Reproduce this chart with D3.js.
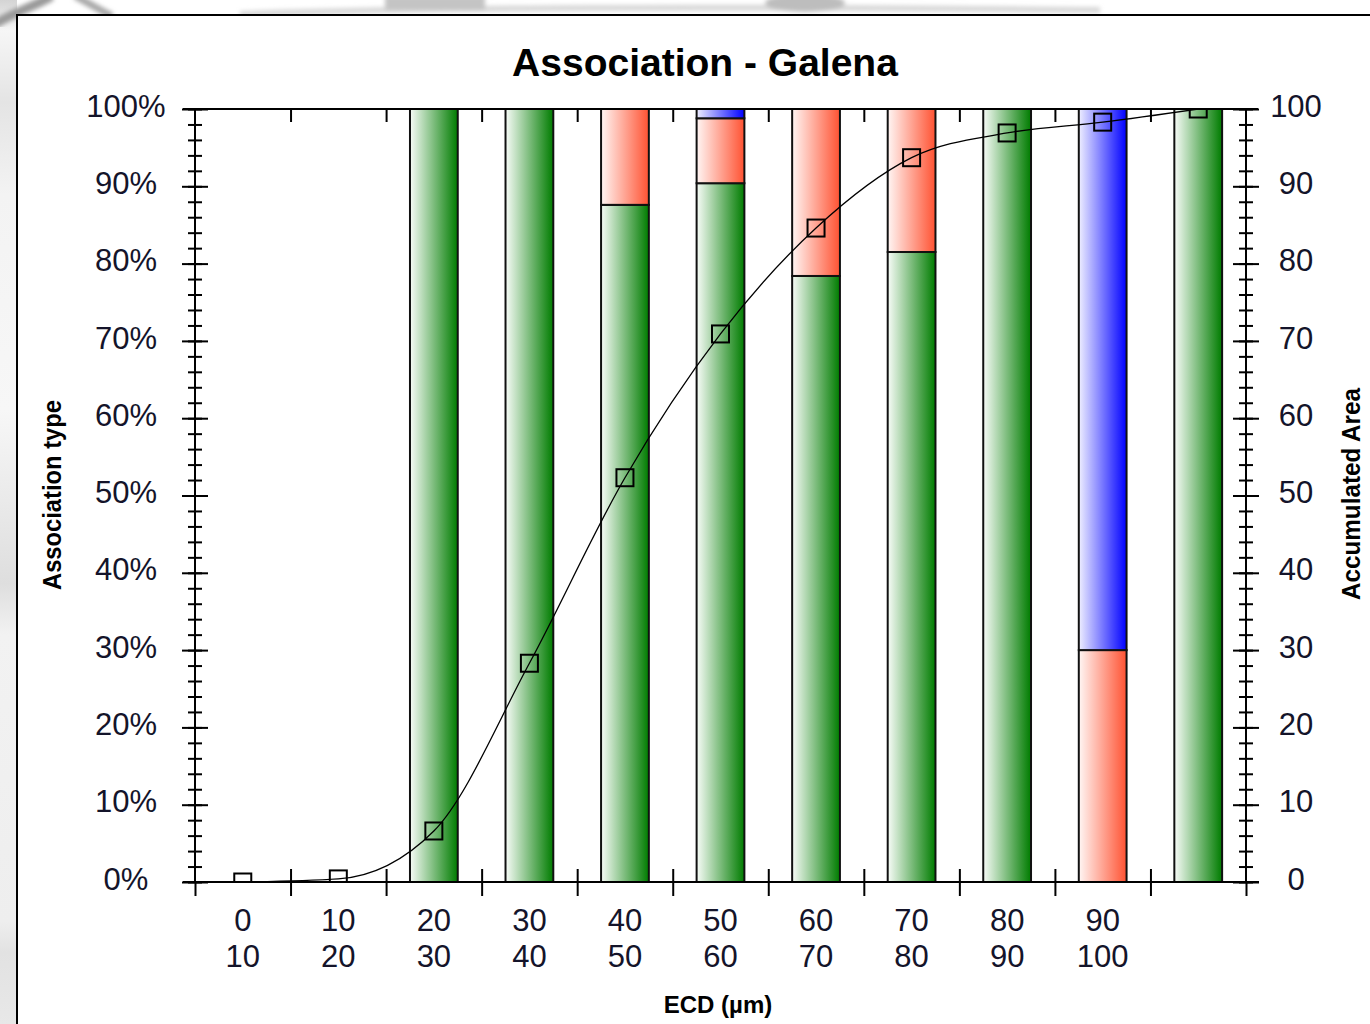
<!DOCTYPE html>
<html>
<head>
<meta charset="utf-8">
<script src="https://cdn.jsdelivr.net/npm/d3@7"></script>
<style>
	body { margin: 0; background: #fff; }
	svg { display: block; font-family: 'Liberation Sans', Arial, sans-serif; }
	.tick text { fill: #14142a; font-size: 31px; }
</style>
</head>
<body>
<div id="chart"></div>
<script>
// size classes (ECD, µm)
const bins = ['0-10', '10-20', '20-30', '30-40', '40-50', '50-60', '60-70', '70-80', '80-90', '90-100', '100+']
const binLow = ['0', '10', '20', '30', '40', '50', '60', '70', '80', '90', '']
const binHigh = ['10', '20', '30', '40', '50', '60', '70', '80', '90', '100', '']

// association type share per class (%)
const greenPct = [0, 0, 100, 100, 87.6, 90.4, 78.4, 81.5, 100, 0, 100]
const redPct = [0, 0, 0, 0, 12.4, 8.4, 21.6, 18.5, 0, 30, 0]
const bluePct = [0, 0, 0, 0, 0, 1.2, 0, 0, 0, 70, 0]

// accumulated area
const accumulated = [0, 0.4, 6.6, 28.3, 52.3, 70.9, 84.6, 93.7, 96.9, 98.3, 100]

const pctTicks = [0, 10, 20, 30, 40, 50, 60, 70, 80, 90, 100]
const areaTicks = [0, 10, 20, 30, 40, 50, 60, 70, 80, 90, 100]

const width = 1370
const height = 1024
const plot = { left: 195, right: 1246, top: 109, bottom: 882 }

const svg = d3.select('#chart')
	.append('svg')
	.attr('width', width)
	.attr('height', height)

const defs = svg.append('defs')

// soft blur for the stuff behind the window
defs.append('filter').attr('id', 'soft')
	.append('feGaussianBlur').attr('stdDeviation', 2)

const gradients = [
	{ id: 'g-green', from: '#f8fcf8', to: '#007c00' },
	{ id: 'g-red', from: '#fff6f4', to: '#ff5232' },
	{ id: 'g-blue', from: '#eeeeff', to: '#0000ff' },
]
gradients.forEach(g => {
	const lg = defs.append('linearGradient').attr('id', g.id)
		.attr('x1', 0).attr('x2', 1).attr('y1', 0).attr('y2', 0)
	lg.append('stop').attr('offset', 0).attr('stop-color', g.from)
	lg.append('stop').attr('offset', 1).attr('stop-color', g.to)
})

defs.append('clipPath').attr('id', 'plot-clip')
	.append('rect')
	.attr('x', plot.left).attr('y', plot.top)
	.attr('width', plot.right - plot.left)
	.attr('height', plot.bottom - plot.top)

// background behind the chart window
const bgGrad = defs.append('linearGradient').attr('id', 'bg-left')
	.attr('x1', 0).attr('x2', 0).attr('y1', 0).attr('y2', 1)
;[[0, '#d4d4d4'], [0.03, '#f6f6f6'], [0.1, '#e4e4e4'], [0.19, '#f3f3f3'], [0.4, '#f7f7f7'],
	[0.57, '#dedede'], [0.62, '#f2f2f2'], [0.9, '#eeeeee'], [0.93, '#e2e2e2'], [1, '#e8e8e8']]
	.forEach(([o, c]) => bgGrad.append('stop').attr('offset', o).attr('stop-color', c))

svg.append('rect').attr('x', 0).attr('y', 0).attr('width', 17).attr('height', height)
	.attr('fill', 'url(#bg-left)')

const bg = svg.append('g').attr('filter', 'url(#soft)')
bg.append('path').attr('d', 'M-5,24 C15,12 35,6 52,-4')
	.attr('stroke', '#9a9a9a').attr('stroke-width', 9).attr('fill', 'none')
bg.append('path').attr('d', 'M75,-4 C90,4 100,10 112,16')
	.attr('stroke', '#a8a8a8').attr('stroke-width', 7).attr('fill', 'none')
bg.append('path').attr('d', 'M240,14 C400,8 700,6 1100,10')
	.attr('stroke', '#d8d8d8').attr('stroke-width', 6).attr('fill', 'none')
bg.append('rect').attr('x', 385).attr('y', -4).attr('width', 100).attr('height', 14).attr('fill', '#c4c4c4')
bg.append('ellipse').attr('cx', 805).attr('cy', 3).attr('rx', 40).attr('ry', 9).attr('fill', '#bdbdbd')

// chart window
svg.append('rect').attr('x', 17).attr('y', 15).attr('width', width).attr('height', height)
	.attr('fill', '#fff')
svg.append('path').attr('d', `M17,${height + 2} V15 H${width + 2}`)
	.attr('stroke', '#000').attr('stroke-width', 2).attr('fill', 'none')

// scales
const x = d3.scaleBand()
	.domain(bins)
	.range([plot.left, plot.right])
	.paddingInner(0.5)
	.paddingOuter(0.25)

const xEdge = d3.scaleLinear()
	.domain([0, 110])
	.range([plot.left, plot.right])

const y = d3.scaleLinear().domain([0, 100]).range([plot.bottom, plot.top])
const yArea = d3.scaleLinear().domain([0, 100]).range([plot.bottom, plot.top])

// bars
const rows = bins.map((b, i) => ({ bin: b, green: greenPct[i], red: redPct[i], blue: bluePct[i] }))
const stacked = d3.stack().keys(['green', 'red', 'blue'])(rows)

const barGroup = svg.append('g').attr('class', 'bars')
barGroup.selectAll('g')
	.data(stacked)
	.join('g')
	.attr('fill', d => `url(#g-${d.key})`)
	.selectAll('rect')
	.data(d => d.filter(s => s[1] - s[0] > 0))
	.join('rect')
	.attr('x', d => x(d.data.bin))
	.attr('width', x.bandwidth())
	.attr('y', d => y(d[1]))
	.attr('height', d => y(d[0]) - y(d[1]))
	.attr('stroke', '#111')
	.attr('stroke-width', 2)

// frame lines
const frame = svg.append('g').attr('stroke', '#000').attr('stroke-width', 2)
frame.append('line').attr('x1', plot.left - 12).attr('x2', plot.right + 12)
	.attr('y1', plot.top).attr('y2', plot.top)
frame.append('line').attr('x1', plot.left - 12).attr('x2', plot.right + 13)
	.attr('y1', plot.bottom).attr('y2', plot.bottom)
frame.append('line').attr('x1', plot.left).attr('x2', plot.left)
	.attr('y1', plot.top).attr('y2', plot.bottom)
frame.append('line').attr('x1', plot.right).attr('x2', plot.right)
	.attr('y1', plot.top).attr('y2', plot.bottom)

const clean = g => {
	g.select('.domain').remove()
	g.selectAll('.tick line').attr('stroke', '#000').attr('stroke-width', 2)
}

// left axis: major ticks crossing, labels centred
svg.append('g')
	.attr('transform', `translate(${plot.left},0)`)
	.call(d3.axisLeft(y).tickValues(pctTicks).tickSize(13).tickFormat(d => d + '%'))
	.call(clean)
	.call(g => g.selectAll('.tick text')
		.attr('x', -69).attr('dy', '0.23em').attr('text-anchor', 'middle'))
svg.append('g')
	.attr('transform', `translate(${plot.left},0)`)
	.call(d3.axisRight(y).tickValues(pctTicks).tickSize(13).tickFormat(''))
	.call(clean)
svg.append('g')
	.attr('transform', `translate(${plot.left - 7},0)`)
	.call(d3.axisRight(y).ticks(50).tickSize(14).tickFormat(''))
	.call(clean)

// right axis
svg.append('g')
	.attr('transform', `translate(${plot.right},0)`)
	.call(d3.axisRight(yArea).tickValues(areaTicks).tickSize(13).tickFormat(d => d))
	.call(clean)
	.call(g => g.selectAll('.tick text')
		.attr('x', 50).attr('dy', '0.23em').attr('text-anchor', 'middle'))
svg.append('g')
	.attr('transform', `translate(${plot.right},0)`)
	.call(d3.axisLeft(yArea).tickValues(areaTicks).tickSize(13).tickFormat(''))
	.call(clean)
svg.append('g')
	.attr('transform', `translate(${plot.right - 7},0)`)
	.call(d3.axisRight(yArea).ticks(50).tickSize(14).tickFormat(''))
	.call(clean)

// bottom axis: class edges
svg.append('g')
	.attr('transform', `translate(0,${plot.bottom})`)
	.call(d3.axisBottom(xEdge).ticks(11).tickSize(14).tickFormat(''))
	.call(clean)
svg.append('g')
	.attr('transform', `translate(0,${plot.bottom})`)
	.call(d3.axisTop(xEdge).tickValues(d3.range(10, 101, 10)).tickSize(13).tickFormat(''))
	.call(clean)
svg.append('g')
	.attr('transform', `translate(0,${plot.top})`)
	.call(d3.axisBottom(xEdge).tickValues(d3.range(10, 101, 10)).tickSize(13).tickFormat(''))
	.call(clean)

// two line class labels
svg.append('g')
	.attr('transform', `translate(0,${plot.bottom})`)
	.call(d3.axisBottom(x).tickSize(0).tickFormat(''))
	.call(g => g.select('.domain').remove())
	.call(g => g.selectAll('.tick text').attr('dy', null).attr('y', null)
		.each(function (d, i) {
			const t = d3.select(this)
			t.append('tspan').attr('x', 0).attr('y', 49).text(binLow[i])
			t.append('tspan').attr('x', 0).attr('y', 85).text(binHigh[i])
		}))

// accumulated curve
const cx = (d, i) => x(bins[i]) + x.bandwidth() / 2
const lineGroup = svg.append('g').attr('clip-path', 'url(#plot-clip)')
lineGroup.append('path')
	.datum(accumulated)
	.attr('d', d3.line().x(cx).y(d => yArea(d)).curve(d3.curveMonotoneX))
	.attr('fill', 'none')
	.attr('stroke', '#000')
	.attr('stroke-width', 1.3)
lineGroup.selectAll('rect.marker')
	.data(accumulated)
	.join('rect')
	.attr('class', 'marker')
	.attr('x', (d, i) => cx(d, i) - 8.5)
	.attr('y', d => yArea(d) - 8.5)
	.attr('width', 17)
	.attr('height', 17)
	.attr('fill', 'none')
	.attr('stroke', '#000')
	.attr('stroke-width', 2)

// titles
svg.append('text')
	.attr('x', 705).attr('y', 76)
	.attr('text-anchor', 'middle')
	.attr('font-size', 39).attr('font-weight', 'bold')
	.text('Association - Galena')

svg.append('text')
	.attr('transform', 'translate(61,495) rotate(-90)')
	.attr('text-anchor', 'middle')
	.attr('font-size', 25).attr('font-weight', 'bold')
	.attr('textLength', 190).attr('lengthAdjust', 'spacingAndGlyphs')
	.text('Association type')

svg.append('text')
	.attr('transform', 'translate(1360,494) rotate(-90)')
	.attr('text-anchor', 'middle')
	.attr('font-size', 25).attr('font-weight', 'bold')
	.attr('textLength', 212).attr('lengthAdjust', 'spacingAndGlyphs')
	.text('Accumulated Area')

svg.append('text')
	.attr('x', 718).attr('y', 1013)
	.attr('text-anchor', 'middle')
	.attr('font-size', 24).attr('font-weight', 'bold')
	.text('ECD (µm)')
</script>
</body>
</html>
